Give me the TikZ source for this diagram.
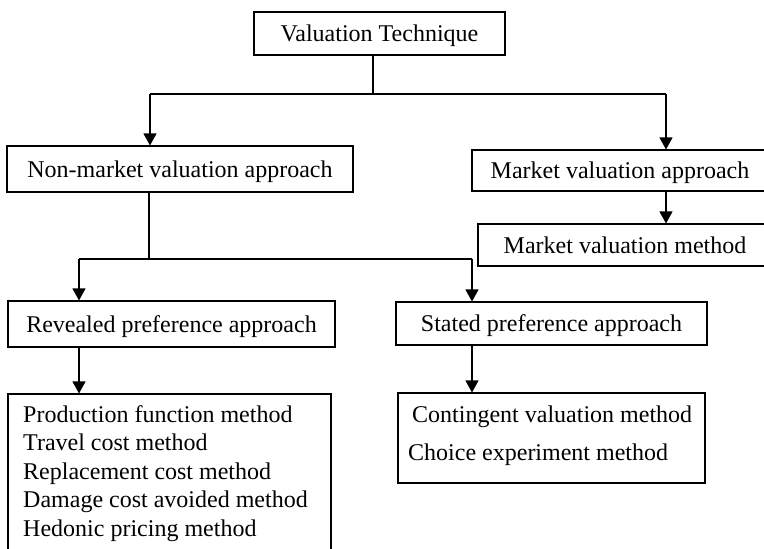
\documentclass[tikz,border=0pt]{standalone}
\usepackage{fontspec}
\setmainfont{Liberation Serif}
\usetikzlibrary{arrows.meta}
\begin{document}
\begin{tikzpicture}[x=1pt,y=-1pt,
  box/.style={draw,line width=1.1pt,inner sep=0pt,text depth=0pt,font=\fontsize{24}{28}\selectfont},
  ln/.style={line width=1.1pt},
  arr/.style={line width=1.1pt,-{Triangle[width=13pt,length=12pt]}},
  item/.style={anchor=base west,inner sep=0pt,font=\fontsize{24}{28}\selectfont}]
\useasboundingbox (0,0) rectangle (764,549);
\clip (0,0) rectangle (764,549);

\node[box,minimum width=251pt,minimum height=43pt] (vt) at (379.5,33.5) {Valuation Technique};
\node[box,minimum width=346pt,minimum height=46pt] (nonmkt) at (180,169) {Non-market valuation approach};
\node[box,minimum width=296pt,minimum height=41pt] (mkt) at (620,170.5) {Market valuation approach};
\node[box,minimum width=294pt,minimum height=42pt] (mktm) at (625,245) {Market valuation method};
\node[box,minimum width=327pt,minimum height=46pt] (rev) at (171.5,324) {Revealed preference approach};
\node[box,minimum width=311pt,minimum height=43pt] (sta) at (551.5,323.5) {Stated preference approach};
\node[box,minimum width=323pt,minimum height=170pt] (revm) at (169.5,479) {};
\node[box,minimum width=307pt,minimum height=90pt] (stam) at (551.5,438) {};

\node[item] (rm1) at (23,422) {Production function method};
\node[item] (rm2) at (23,450.5) {Travel cost method};
\node[item] (rm3) at (23,479) {Replacement cost method};
\node[item] (rm4) at (23,507.5) {Damage cost avoided method};
\node[item] (rm5) at (23,536) {Hedonic pricing method};
\node[item] (sm1) at (412,422) {Contingent valuation method};
\node[item] (sm2) at (408,460) {Choice experiment method};

\coordinate (top) at (373,94);
\coordinate (a1) at (150,94);
\coordinate (a2) at (666,94);
\coordinate (mid) at (149,259);
\coordinate (b1) at (79,259);
\coordinate (b2) at (472,259);

\draw[ln] (vt.south -| top) -- (top);
\draw[ln] (a1) -- (a2);
\draw[arr] (a1) -- (a1 |- nonmkt.north);
\draw[arr] (a2) -- (a2 |- mkt.north);
\draw[arr] (a2 |- mkt.south) -- (a2 |- mktm.north);

\draw[ln] (mid |- nonmkt.south) -- (mid);
\draw[ln] (b1) -- (b2);
\draw[arr] (b1) -- (b1 |- rev.north);
\draw[arr] (b2) -- (b2 |- sta.north);
\draw[arr] (b1 |- rev.south) -- (b1 |- revm.north);
\draw[arr] (b2 |- sta.south) -- (b2 |- stam.north);
\end{tikzpicture}
\end{document}
